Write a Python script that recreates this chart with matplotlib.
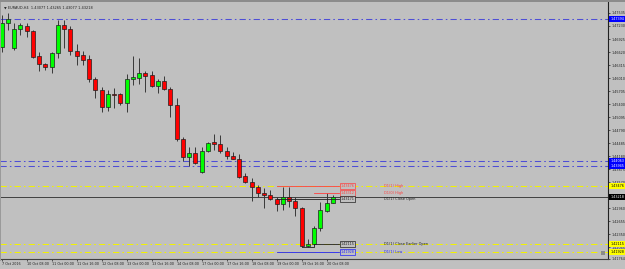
import numpy as np
import matplotlib
matplotlib.use("Agg")
import matplotlib.pyplot as plt
from matplotlib.patches import Rectangle
from matplotlib.transforms import blended_transform_factory

# EURAUD H4 bars, 7 Oct 2016 16:00 .. 20 Oct 2016 12:00
opens = [1.46737, 1.47300, 1.46714, 1.47159, 1.47230, 1.47112, 1.46526, 1.46338, 1.46268, 1.46596,
         1.47253, 1.47159, 1.46643, 1.46549, 1.46456, 1.45986, 1.45728, 1.45329, 1.45634, 1.45634,
         1.45423, 1.45986, 1.46010, 1.46127, 1.46080, 1.45822, 1.45939, 1.45752, 1.45376, 1.44579,
         1.44156, 1.44250, 1.43805, 1.44297, 1.44508, 1.44461, 1.44297, 1.44180, 1.44110, 1.43711,
         1.43570, 1.43453, 1.43312, 1.43265, 1.43171, 1.43054, 1.43218, 1.43124, 1.42960, 1.42069,
         1.42115, 1.42491, 1.42890, 1.43077]
highs = [1.47488, 1.47535, 1.47300, 1.47300, 1.47300, 1.47136, 1.46620, 1.46362, 1.46620, 1.47370,
         1.47370, 1.47230, 1.46807, 1.46643, 1.46549, 1.46033, 1.45799, 1.45728, 1.45775, 1.45658,
         1.46104, 1.46526, 1.46479, 1.46174, 1.46174, 1.45986, 1.46057, 1.45799, 1.45541, 1.44626,
         1.44391, 1.44391, 1.44391, 1.44508, 1.44696, 1.44673, 1.44391, 1.44274, 1.44227, 1.43781,
         1.43664, 1.43500, 1.43429, 1.43382, 1.43218, 1.43453, 1.43453, 1.43218, 1.42983, 1.42233,
         1.42538, 1.43101, 1.43312, 1.43265]
lows = [1.46620, 1.47136, 1.46667, 1.47019, 1.46972, 1.46479, 1.46174, 1.46197, 1.46127, 1.46479,
        1.46714, 1.46549, 1.46315, 1.46315, 1.45916, 1.45541, 1.45212, 1.45236, 1.45306, 1.45376,
        1.45212, 1.45846, 1.45869, 1.45681, 1.45799, 1.45658, 1.45728, 1.45095, 1.44532, 1.44063,
        1.43945, 1.43995, 1.43781, 1.44274, 1.44321, 1.44250, 1.44110, 1.44100, 1.43664, 1.43547,
        1.43124, 1.43218, 1.42960, 1.43148, 1.42890, 1.42913, 1.42983, 1.42772, 1.42045, 1.42045,
        1.42092, 1.42420, 1.42866, 1.43077]
closes = [1.47300, 1.47394, 1.47159, 1.47253, 1.47112, 1.46502, 1.46338, 1.46268, 1.46596, 1.47253,
          1.47159, 1.46643, 1.46526, 1.46432, 1.45986, 1.45728, 1.45329, 1.45634, 1.45611, 1.45423,
          1.45986, 1.46033, 1.46127, 1.46057, 1.45822, 1.45939, 1.45752, 1.45376, 1.44579, 1.44156,
          1.44250, 1.44016, 1.44297, 1.44485, 1.44461, 1.44297, 1.44180, 1.44110, 1.43687, 1.43570,
          1.43453, 1.43312, 1.43265, 1.43171, 1.43054, 1.43218, 1.43124, 1.42960, 1.42069, 1.42115,
          1.42491, 1.42913, 1.43077, 1.43218]

time_labels = ["7 Oct 2016", "10 Oct 08:00", "11 Oct 00:00", "11 Oct 16:00", "12 Oct 08:00",
               "13 Oct 00:00", "13 Oct 16:00", "14 Oct 08:00", "17 Oct 00:00", "17 Oct 16:00",
               "18 Oct 08:00", "19 Oct 00:00", "19 Oct 16:00", "20 Oct 08:00"]
time_label_bars = [0, 4, 8, 12, 16, 20, 24, 28, 32, 36, 40, 44, 48, 52]

price_ticks = [1.47535, 1.47230, 1.46925, 1.46620, 1.46315, 1.46010, 1.45705, 1.45400, 1.45095,
               1.44790, 1.44485, 1.44180, 1.43875, 1.43570, 1.43265, 1.42960, 1.42655, 1.42350,
               1.42045, 1.41764]

blue_levels = [1.47394, 1.44063, 1.43945]
yellow_levels = [1.43476, 1.42115, 1.41928]

# daily levels: name, price, start bar, colour
d1_names = ["D1(1) High", "D1(0) High", "D1(1) Close Open", "D1(1) Close Earlier Open", "D1(1) Low"]
d1_prices = [1.43476, 1.43312, 1.43171, 1.42115, 1.41928]
d1_start = [44, 50, 44, 50, 44]
d1_colors = ["#ff4040", "#ff4040", "#202020", "#202020", "#2020ff"]

BG = "#c0c0c0"
fig = plt.figure(figsize=(6.25, 2.69), dpi=100, facecolor=BG)
ax = fig.add_axes([0, 10 / 269, 608 / 625, 257 / 269])
ax.set_facecolor(BG)

n = len(opens)
x = np.arange(n)
o = np.array(opens); h = np.array(highs); l = np.array(lows); c = np.array(closes)
up = c >= o

ax.vlines(x, l, h, color="#383838", lw=0.7, zorder=3)
bottom = np.minimum(o, c)
height = np.maximum(np.abs(c - o), 0.00006)
ax.bar(x[up], height[up], bottom=bottom[up], width=0.64, color="#00ff00",
       edgecolor="#202020", lw=0.5, zorder=4)
ax.bar(x[~up], height[~up], bottom=bottom[~up], width=0.64, color="#ff0000",
       edgecolor="#202020", lw=0.5, zorder=4)

ax.set_xlim(-0.27, 97.0)
ax.set_ylim(1.41764, 1.47793)

dashdot = (0, (6, 3, 1.5, 3))
for p in blue_levels:
    ax.axhline(p, color="#4e4ed6", lw=0.75, ls=dashdot, zorder=2)
for p in yellow_levels:
    ax.axhline(p, color="#f2f200", lw=0.75, ls=dashdot, zorder=2)
ax.axhline(closes[-1], color="#404040", lw=0.7, zorder=2)

# daily level segments, boxes and names
for name, p, s, col in zip(d1_names, d1_prices, d1_start, d1_colors):
    ax.plot([s, 54.0], [p, p], color=col, lw=0.6, zorder=5)
    ax.text(54.2, p, f"{p:.5f}", fontsize=2.4, color=col, va="center", ha="left", zorder=6,
            bbox=dict(boxstyle="square,pad=0.2", fc=BG, ec=col, lw=0.5))
    ax.text(61.2, p, name, fontsize=2.5, color=col, va="center", ha="left", zorder=6)
ax.plot([48, 50, 50], [1.42045, 1.42045, 1.42115], color="#202020", lw=0.6, zorder=5)

# axes look
for side in ["left", "top"]:
    ax.spines[side].set_visible(False)
ax.spines["right"].set_color("#202020")
ax.spines["bottom"].set_color("#404040")
ax.spines["right"].set_linewidth(0.8)
ax.spines["bottom"].set_linewidth(0.8)

ax.yaxis.tick_right()
ax.set_yticks(price_ticks)
ax.set_yticklabels([f"{p:.5f}" for p in price_ticks])
ax.tick_params(axis="y", length=1.5, width=0.5, pad=0.8, labelsize=2.4, colors="#202020")
ax.set_xticks(time_label_bars)
ax.set_xticklabels(time_labels)
ax.tick_params(axis="x", length=1.5, width=0.5, pad=1.0, labelsize=2.4, colors="#202020")
for lab in ax.get_xticklabels():
    lab.set_ha("left")

# highlighted prices on the price scale
tr = blended_transform_factory(ax.transAxes, ax.transData)
marks = [(p, "#0000ff", "white") for p in blue_levels]
marks += [(p, "#ffff00", "black") for p in yellow_levels]
marks += [(closes[-1], "#000000", "white")]
for p, fc, tc in marks:
    ax.add_patch(Rectangle((1.0 + 1 / 608, p - 0.0007), 17 / 608, 0.0014, transform=tr,
                           facecolor=fc, edgecolor="none", clip_on=False, zorder=10))
    ax.text(1.0 + 3 / 608, p, f"{p:.5f}", transform=tr, fontsize=2.4, color=tc,
            va="center", ha="left", clip_on=False, zorder=11)

ax.text(0.006, 0.985, "\u25bc EURAUD,H4  " + f"{opens[-1]:.5f} {highs[-1]:.5f} {lows[-1]:.5f} {closes[-1]:.5f}",
        transform=ax.transAxes, fontsize=2.5, color="#202020", va="top", ha="left", zorder=8)

# window borders
fig.patches.append(Rectangle((0, 1 - 2 / 269), 1, 2 / 269, transform=fig.transFigure,
                             facecolor="#8c8c8c", edgecolor="none"))
fig.patches.append(Rectangle((0, 0.03), 1.5 / 625, 0.97, transform=fig.transFigure,
                             facecolor="#9a9a9a", edgecolor="none", zorder=0.5))
fig.patches.append(Rectangle((601 / 625, 14 / 269), 4 / 625, 4 / 269, transform=fig.transFigure,
                             facecolor="#8a8a8a", edgecolor="none"))

fig.savefig("out.png", dpi=100, facecolor=BG)
